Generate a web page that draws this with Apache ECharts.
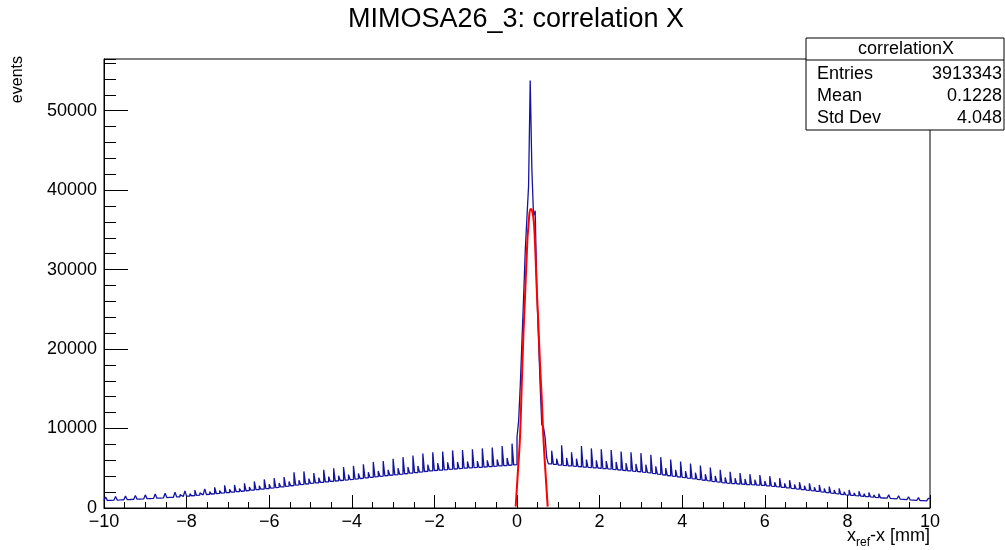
<!DOCTYPE html>
<html>
<head>
<meta charset="utf-8">
<script src="https://cdn.jsdelivr.net/npm/echarts@6/dist/echarts.min.js"></script>
<style>
html,body{margin:0;padding:0;background:#fff;}
#chart{width:1005px;height:550px;}
</style>
</head>
<body>
<div id="chart"></div>
<script>
// ---- data ----
const chartTitle = 'MIMOSA26_3: correlation X';
const histName = 'correlationX';
const statLabels = ['Entries', 'Mean', 'Std Dev'];
const statValues = ['3913343', '0.1228', '4.048'];
const xMin = -10, xMax = 10;         // axis range (mm)
const binWidth = 0.04;               // histogram bin width (mm)
const yMax = 56500;                  // frame top (events)
const xTickStep = 2, yTickStep = 10000;

// bin contents, 25 bins (1 mm) per row, from x = -10 to x = 10
const counts = [
  940,1380,960,950,1180,980,990,1450,1000,1010,1230,1030,1040,1500,1060,1070,1290,1090,1100,1580,1110,1120,1350,1140,1150,
  1650,1180,1190,1420,1210,1220,1750,1240,1250,1500,1280,1290,1850,1310,1330,1580,1350,1370,2000,1390,1410,1680,1440,1460,2150,
  1500,1510,1800,1540,1560,2250,1590,1610,1900,1650,1670,2400,1700,1720,2050,1760,1780,2600,1820,1840,2200,1880,1900,2850,1930,
  1950,2350,1990,2010,2900,2050,2070,2450,2110,2130,3100,2170,2200,2650,2240,2260,3350,2300,2330,2800,2370,2390,3600,2430,2450,
  3000,2490,2520,3750,2570,2600,3150,2650,2670,3900,2720,2750,3350,2800,2820,4500,2870,2900,3500,2950,2970,4600,3020,3050,3700,
  3100,3120,4400,3160,3180,3800,3220,3240,4800,3280,3300,3950,3340,3360,5000,3400,3420,4050,3460,3490,5150,3520,3540,4200,3580,
  3600,5300,3640,3660,4350,3710,3730,5500,3780,3800,4500,3850,3870,5800,3920,3940,4650,3990,4010,5900,4060,4080,4800,4120,4140,
  6200,4170,4190,5000,4240,4260,6400,4310,4330,5150,4380,4400,6600,4450,4470,5300,4520,4540,6850,4590,4610,5450,4660,4680,7000,
  4720,4730,5650,4760,4780,7100,4810,4830,5750,4860,4880,7250,4910,4930,5800,4960,4980,7300,5010,5020,5850,5040,5060,7400,5080,
  5100,5900,5120,5130,7500,5160,5170,6000,5200,5210,7600,5240,5260,6100,5290,5300,7800,5330,5350,6300,5380,5400,8100,5430,5460,
  8900,11000,15500,21000,26500,32400,36500,40500,53800,42700,36800,37400,27500,21500,15500,10500,10200,8900,6300,5550,5540,7200,5500,5480,6200,
  5400,5390,7900,5360,5340,6300,5310,5290,7000,5260,5240,6200,5210,5190,7800,5160,5140,6100,5110,5090,7500,5060,5050,6000,5020,
  5000,7400,4970,4950,5900,4920,4900,7300,4860,4840,5800,4800,4780,7100,4740,4720,5650,4680,4660,7000,4630,4610,5550,4580,4560,
  6900,4520,4490,5450,4440,4410,6700,4350,4320,5250,4270,4240,6400,4180,4150,5000,4090,4060,6100,4000,3980,4800,3920,3900,5850,
  3850,3820,4650,3770,3740,5600,3690,3660,4450,3600,3580,5350,3520,3490,4250,3440,3410,5100,3360,3330,4050,3280,3250,4800,3190,
  3150,3850,3130,3110,4550,3080,3070,3750,3040,3020,4400,3000,2990,3650,2960,2950,4250,2930,2910,3550,2890,2880,4150,2860,2840,
  3400,2800,2780,4000,2740,2720,3250,2680,2660,3750,2610,2590,3100,2540,2520,3500,2470,2450,2950,2400,2380,3250,2330,2310,2800,
  2260,2230,3100,2180,2160,2600,2110,2080,2900,2030,2000,2450,1950,1930,2700,1880,1850,2250,1800,1780,2450,1730,1700,2050,1660,
  1630,2260,1600,1580,1900,1550,1530,2100,1500,1480,1800,1440,1420,1950,1390,1370,1650,1330,1310,1800,1280,1260,1500,1240,1230,
  1650,1200,1190,1420,1160,1140,1550,1110,1090,1300,1060,1040,1420,1010,990,1180,960,950,1300,930,920,1080,900,890,1200
];

// fitted curve (red)
const fitX = [-0.032, 0.024, 0.073, 0.113, 0.153, 0.194, 0.234, 0.274, 0.339, 0.395, 0.436, 0.476, 0.517, 0.557, 0.597, 0.638, 0.686, 0.743];
const fitY = [167, 4770, 8960, 15240, 21520, 26540, 31570, 35330, 37640, 36590, 33240, 27800, 23190, 18170, 13980, 8960, 4770, 167];

// ---- build series from the data ----
const histData = counts.map((v, i) => [xMin + i * binWidth, v]);
histData.push([xMax, counts[counts.length - 1]]);
const fitData = fitX.map((x, i) => [x, fitY[i]]);

const FONT = "'Liberation Sans', Arial, Helvetica, sans-serif";
const chart = echarts.init(document.getElementById('chart'), null, {renderer: 'canvas'});
const minus = v => String(v).replace('-', '\u2212');

chart.setOption({
  animation: false,
  backgroundColor: '#ffffff',
  grid: {left: 104, right: 75, top: 59, bottom: 42, show: true, borderColor: '#000', borderWidth: 1, backgroundColor: 'transparent'},
  xAxis: {
    type: 'value', min: xMin, max: xMax, interval: xTickStep,
    axisLine: {show: true, onZero: false, lineStyle: {color: '#000', width: 1}},
    axisTick: {show: true, inside: true, length: 13, lineStyle: {color: '#000'}},
    minorTick: {show: true, splitNumber: 4, length: 6, lineStyle: {color: '#000'}},
    splitLine: {show: false}, minorSplitLine: {show: false},
    axisLabel: {color: '#000', fontSize: 18, fontFamily: FONT, margin: 5, formatter: minus}
  },
  yAxis: [{
    type: 'value', min: 0, max: yMax, interval: yTickStep,
    axisLine: {show: true, onZero: false, lineStyle: {color: '#000', width: 1}},
    axisTick: {show: true, inside: true, length: 24, lineStyle: {color: '#000'}},
    splitLine: {show: false},
    axisLabel: {color: '#000', fontSize: 18, fontFamily: FONT, margin: 7, showMaxLabel: false, formatter: v => String(v)}
  }, {
    type: 'value', min: 0, max: yMax, interval: yTickStep / 5, position: 'left',
    axisLine: {show: false, onZero: false},
    axisTick: {show: true, inside: true, length: 12, lineStyle: {color: '#000'}},
    splitLine: {show: false},
    axisLabel: {show: false}
  }],
  series: [{
    type: 'line', step: 'end', data: histData, showSymbol: false, symbol: 'none',
    lineStyle: {color: '#1414a0', width: 1.3}, z: 2, silent: true
  }, {
    type: 'line', data: fitData, smooth: true, showSymbol: false, symbol: 'none',
    lineStyle: {color: '#ff0000', width: 2}, z: 3, silent: true
  }],
  graphic: [
    {type: 'text', x: 516, y: 20, style: {text: chartTitle, fontSize: 27, fontFamily: FONT, fill: '#000', textAlign: 'center', textVerticalAlign: 'middle'}},
    {type: 'text', rotation: Math.PI / 2, x: 10, y: 56,
      style: {text: 'events', fontSize: 16, fontFamily: FONT, fill: '#000', textAlign: 'right', textVerticalAlign: 'top'}},
    {type: 'text', x: 930, y: 538,
      style: {text: '{a|x}{s|ref}{a|-x [mm]}', textAlign: 'right', textVerticalAlign: 'middle', fontFamily: FONT, fill: '#000',
        rich: {a: {fontSize: 18, fontFamily: FONT, fill: '#000', lineHeight: 22, verticalAlign: 'top'},
               s: {fontSize: 12, fontFamily: FONT, fill: '#000', lineHeight: 22, verticalAlign: 'bottom', padding: [10, 0, 0, 0]}}}},
    {type: 'rect', shape: {x: 806, y: 38, width: 198, height: 92}, style: {fill: '#fff', stroke: '#000', lineWidth: 1}, z: 10},
    {type: 'line', shape: {x1: 806, y1: 60, x2: 1004, y2: 60}, style: {stroke: '#000', lineWidth: 1}, z: 11},
    {type: 'text', x: 906, y: 49, z: 12, style: {text: histName, fontSize: 18, fontFamily: FONT, fill: '#000', textAlign: 'center', textVerticalAlign: 'middle'}},
    ...statLabels.map((t, i) => ({type: 'text', x: 817, y: 74 + i * 22, z: 12,
      style: {text: t, fontSize: 18, fontFamily: FONT, fill: '#000', textAlign: 'left', textVerticalAlign: 'middle'}})),
    ...statValues.map((t, i) => ({type: 'text', x: 1002, y: 74 + i * 22, z: 12,
      style: {text: t, fontSize: 18, fontFamily: FONT, fill: '#000', textAlign: 'right', textVerticalAlign: 'middle'}}))
  ]
});
</script>
</body>
</html>
